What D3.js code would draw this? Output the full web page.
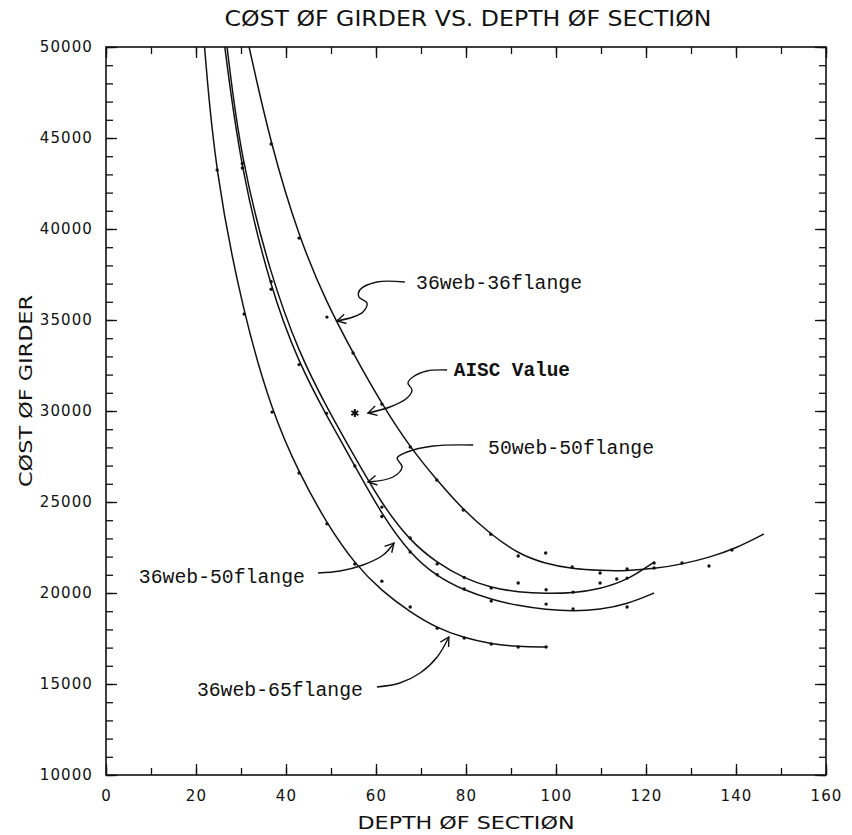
<!DOCTYPE html>
<html><head><meta charset="utf-8">
<script src="https://cdn.jsdelivr.net/npm/d3@7"></script>
<style>
body{margin:0;background:#fff}
svg{display:block}
.tick text{font-family:"DejaVu Sans",sans-serif;font-size:15px;fill:#111;letter-spacing:1.1px}
.tick line{stroke:#111;stroke-width:1.3}
.lbl{font-family:"Liberation Mono","Courier New",monospace;font-size:20px;fill:#111}
.ttl{font-family:"DejaVu Sans",sans-serif;fill:#111}
</style></head><body>
<div id="chart"></div>
<script>
// fitted curves: depth of section vs cost of girder
var fit3636X = [31.8, 36.6, 42.9, 49.1, 54.9, 61.3, 67.6, 73.5, 79.4, 85.5, 91.6, 97.7, 103.6, 109.8, 115.8, 121.8, 128, 134, 140, 146.2];
var fit3636Y = [50000, 44670, 39500, 35900, 33185, 30380, 28000, 26208, 24560, 23225, 22150, 21600, 21330, 21230, 21220, 21330, 21580, 21950, 22450, 23240];
var fit5050X = [26.9, 29.9, 36.6, 42.9, 49.0, 55.3, 61.3, 67.6, 73.6, 79.6, 85.6, 91.6, 97.8, 103.8, 109.8, 115.8, 121.8];
var fit5050Y = [50000, 43900, 37420, 33190, 30220, 27460, 24880, 22850, 21650, 20800, 20280, 20050, 19970, 20000, 20220, 20700, 21700];
var fit3650X = [26.4, 29.9, 36.6, 42.9, 49.0, 55.3, 61.3, 67.6, 73.6, 79.6, 85.6, 91.6, 97.8, 103.8, 109.8, 115.8, 121.8];
var fit3650Y = [50000, 43350, 36690, 32600, 29750, 26980, 24300, 22150, 20900, 20150, 19650, 19300, 19080, 18990, 19080, 19380, 20000];
var fit3665X = [21.9, 24.2, 30.5, 36.9, 42.9, 49.1, 55.3, 61.3, 67.6, 73.6, 79.6, 85.6, 91.6, 97.8];
var fit3665Y = [50000, 43240, 35330, 29940, 26590, 23800, 21590, 20100, 18950, 18070, 17530, 17200, 17050, 17030];

// computed points
var pts3636X = [36.7, 42.9, 49.1, 54.9, 61.3, 67.6, 73.5, 79.4, 85.5, 91.6, 97.7, 103.6, 109.8, 115.8, 121.8, 128, 134, 139.1];
var pts3636Y = [44670, 39500, 35160, 33185, 30380, 28020, 26208, 24560, 23225, 22030, 22195, 21425, 21100, 21320, 21370, 21650, 21480, 22360];
var pts5050X = [30.3, 36.7, 61.3, 67.6, 73.6, 79.6, 85.6, 91.6, 97.8, 103.8, 109.8, 113.5, 115.8, 121.8];
var pts5050Y = [43600, 37100, 24720, 23020, 21600, 20850, 20270, 20550, 20180, 20050, 20550, 20770, 20820, 21650];
var pts3650X = [30.3, 36.7, 42.9, 49.0, 55.3, 61.3, 67.6, 73.6, 79.6, 85.6, 97.8, 103.8, 115.8];
var pts3650Y = [43350, 36690, 32550, 29870, 26980, 24200, 22250, 21000, 20220, 19560, 19390, 19120, 19230];
var pts3665X = [24.7, 30.7, 36.9, 42.9, 49.1, 55.3, 61.3, 67.6, 73.6, 79.6, 85.6, 91.6, 97.8];
var pts3665Y = [43240, 35330, 29940, 26590, 23800, 21590, 20650, 19230, 18070, 17530, 17200, 17030, 17030];

var aiscX = 55.3, aiscY = 29890;

var xTicks = [0, 20, 40, 60, 80, 100, 120, 140, 160];
var yTicks = [10000, 15000, 20000, 25000, 30000, 35000, 40000, 45000, 50000];

// annotation labels and leader paths (data units)
var labels = [
  {text: "36web-36flange", at: [68.9, 36703], bold: false,
   lead: [[66.4,37088],[60.2,37088],[56.4,36648],[56.2,36264],[58.0,35934],[57.1,35440],[54.9,35165],[51.3,34945]]},
  {text: "AISC Value", at: [77.3, 31923], bold: true,
   lead: [[75.8,32253],[71.3,32198],[68.2,31868],[67.1,31538],[68.0,31154],[66.9,30714],[63.1,30220],[58.2,29890]]},
  {text: "50web-50flange", at: [84.9, 27637], bold: false,
   lead: [[81.6,28132],[72.7,28077],[66.9,27747],[64.7,27417],[65.8,26923],[63.8,26374],[58.2,26099]]},
  {text: "36web-50flange", at: [7.3, 20549], bold: false,
   lead: [[47.1,21099],[52.0,21209],[57.1,21538],[61.6,22088],[64.0,22747]]},
  {text: "36web-65flange", at: [20.2, 14340], bold: false,
   lead: [[60.2,14835],[65.3,15055],[69.8,15604],[73.6,16484],[76.2,17582]]}
];

var W = 852, H = 835;
var x = d3.scaleLinear().domain([0, 160]).range([106, 826]);
var y = d3.scaleLinear().domain([10000, 50000]).range([775, 47]);

var svg = d3.select("#chart").append("svg").attr("width", W).attr("height", H);

svg.append("defs").append("clipPath").attr("id", "clip")
  .append("rect").attr("x", 106).attr("y", 47).attr("width", 720).attr("height", 728);

// ticks on all four sides, pointing in
function addAxis(axis, tr) {
  var g = svg.append("g").attr("transform", tr).call(axis);
  g.select(".domain").remove();
  return g;
}
addAxis(d3.axisLeft(y).tickValues(d3.range(10000, 50001, 1000)).tickSize(-7).tickFormat(""), "translate(106,0)");
addAxis(d3.axisLeft(y).tickValues(yTicks).tickSize(-11).tickPadding(13).tickFormat(d3.format("d")), "translate(106,0)");
addAxis(d3.axisRight(y).tickValues(d3.range(10000, 50001, 1000)).tickSize(-7).tickFormat(""), "translate(826,0)");
addAxis(d3.axisRight(y).tickValues(yTicks).tickSize(-11).tickFormat(""), "translate(826,0)");
addAxis(d3.axisBottom(x).tickValues(d3.range(0, 161, 10)).tickSize(-7).tickFormat(""), "translate(0,775)");
addAxis(d3.axisBottom(x).tickValues(xTicks).tickSize(-11).tickPadding(15).tickFormat(d3.format("d")), "translate(0,775)");
addAxis(d3.axisTop(x).tickValues(d3.range(0, 161, 10)).tickSize(-7).tickFormat(""), "translate(0,47)");
addAxis(d3.axisTop(x).tickValues(xTicks).tickSize(-11).tickFormat(""), "translate(0,47)");

svg.append("rect").attr("x", 106).attr("y", 47).attr("width", 720).attr("height", 728)
  .attr("fill", "none").attr("stroke", "#111").attr("stroke-width", 1.6);

// titles
svg.append("text").attr("class", "ttl").attr("x", 468).attr("y", 26)
  .attr("text-anchor", "middle").attr("font-size", 21)
  .attr("textLength", 487).attr("lengthAdjust", "spacingAndGlyphs")
  .text("CØST ØF GIRDER VS. DEPTH ØF SECTIØN");
svg.append("text").attr("class", "ttl").attr("x", 466).attr("y", 829)
  .attr("text-anchor", "middle").attr("font-size", 17)
  .attr("textLength", 217).attr("lengthAdjust", "spacingAndGlyphs")
  .text("DEPTH ØF SECTIØN");
svg.append("text").attr("class", "ttl")
  .attr("transform", "translate(32,391) rotate(-90)")
  .attr("text-anchor", "middle").attr("font-size", 17)
  .attr("textLength", 192).attr("lengthAdjust", "spacingAndGlyphs")
  .text("CØST ØF GIRDER");

// curves (smoothed through the read-off points)
var line = d3.line().x(function(d) { return x(d[0]); }).y(function(d) { return y(d[1]); })
  .curve(d3.curveBasis);
var plot = svg.append("g").attr("clip-path", "url(#clip)");
[[fit3636X, fit3636Y], [fit5050X, fit5050Y], [fit3650X, fit3650Y], [fit3665X, fit3665Y]].forEach(function(s) {
  plot.append("path").datum(d3.zip(s[0], s[1])).attr("d", line)
    .attr("fill", "none").attr("stroke", "#111").attr("stroke-width", 1.5);
});

[[pts3636X, pts3636Y], [pts5050X, pts5050Y], [pts3650X, pts3650Y], [pts3665X, pts3665Y]].forEach(function(s) {
  plot.selectAll(null).data(d3.zip(s[0], s[1])).enter().append("circle")
    .attr("cx", function(d) { return x(d[0]); }).attr("cy", function(d) { return y(d[1]); })
    .attr("r", 1.7).attr("fill", "#111");
});

svg.append("path").attr("d", d3.symbol(d3.symbolAsterisk, 45)())
  .attr("transform", "translate(" + x(aiscX) + "," + y(aiscY) + ")")
  .attr("fill", "none").attr("stroke", "#111").attr("stroke-width", 2);

// labels with curly leaders
var lead = d3.line().x(function(d) { return x(d[0]); }).y(function(d) { return y(d[1]); })
  .curve(d3.curveCatmullRom.alpha(0.5));
labels.forEach(function(l) {
  svg.append("text").attr("class", "lbl").attr("x", x(l.at[0])).attr("y", y(l.at[1]))
    .attr("font-weight", l.bold ? "bold" : null)
    .attr("textLength", l.bold ? 116 : 166).attr("lengthAdjust", "spacingAndGlyphs")
    .text(l.text);
  svg.append("path").datum(l.lead).attr("d", lead)
    .attr("fill", "none").attr("stroke", "#111").attr("stroke-width", 1.4);
  var n = l.lead.length, p1 = l.lead[n - 1], p0 = l.lead[n - 2];
  var ex = x(p1[0]), ey = y(p1[1]);
  var a = Math.atan2(ey - y(p0[1]), ex - x(p0[0]));
  var arr = [a + Math.PI - 0.5, a + Math.PI + 0.5].map(function(t) {
    return [ex + 10 * Math.cos(t), ey + 10 * Math.sin(t)];
  });
  svg.append("path")
    .attr("d", "M" + arr[0] + "L" + ex + "," + ey + "L" + arr[1])
    .attr("fill", "none").attr("stroke", "#111").attr("stroke-width", 1.4);
});
</script>
</body></html>
